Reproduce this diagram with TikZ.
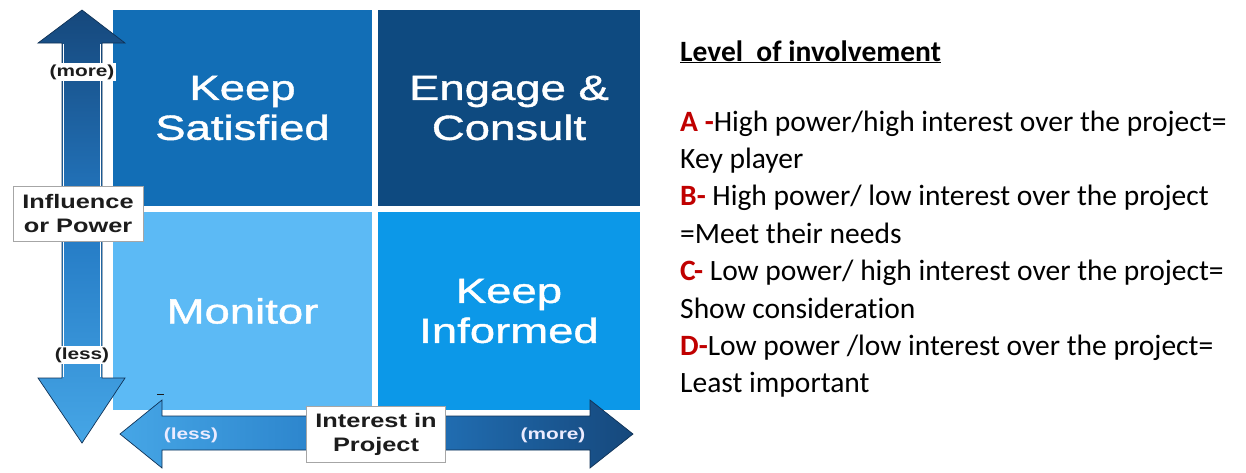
\documentclass[tikz,border=0pt]{standalone}
\usepackage{fontspec}
\setmainfont[Ligatures=NoCommon]{Carlito}
\newfontfamily\gridfont[FakeStretch=1.3]{Liberation Sans}
\newfontfamily\quadfont[FakeStretch=1.3, FakeBold=1.2]{Liberation Sans}

\definecolor{quadKS}{RGB}{18,110,182}
\definecolor{quadEC}{RGB}{14,74,128}
\definecolor{quadMO}{RGB}{92,186,245}
\definecolor{quadKI}{RGB}{12,152,232}
\definecolor{arrDark}{RGB}{22,72,124}
\definecolor{arrMid}{RGB}{36,122,196}
\definecolor{arrLight}{RGB}{70,166,230}
\definecolor{edgeDark}{RGB}{16,50,86}
\definecolor{labelInk}{RGB}{28,28,28}
\definecolor{keyRed}{RGB}{192,0,0}

\tikzset{
  quad/.style={minimum width=259pt, minimum height=196pt, inner sep=0pt,
    text=white, align=center,
    font=\quadfont\fontsize{35}{40}\selectfont},
  axisbox/.style={draw=gray!70, line width=0.8pt, fill=white, align=center,
    text=labelInk, inner sep=0pt,
    font=\gridfont\bfseries\fontsize{19.5}{24}\selectfont},
  endlabel/.style={fill=white, inner xsep=2pt, inner ysep=1.5pt, text=labelInk,
    font=\gridfont\bfseries\fontsize{16}{18}\selectfont},
  shaftlabel/.style={text=white!92!blue,
    font=\gridfont\bfseries\fontsize{16}{18}\selectfont},
  keyline/.style={anchor=base west, inner sep=0pt,
    font=\fontsize{29.5}{36}\selectfont},
  arrowedge/.style={draw=edgeDark, line width=0.7pt, line join=miter}
}
\newcommand{\keytag}[1]{\textcolor{keyRed}{\bfseries #1}}

\begin{document}
\begin{tikzpicture}[x=1pt, y=-1pt]
  \useasboundingbox (0,0) rectangle (1246,472);
  \fill[white] (0,0) rectangle (1246,472);

  % the four quadrants of the grid
  \node[quad, fill=quadKS] (ks) at (242.5,108) {Keep\\Satisfied};
  \node[quad, fill=quadEC, minimum width=262pt] (ec) at (509,108) {Engage \&\\Consult};
  \node[quad, fill=quadMO, minimum height=198pt] (mo) at (242.5,311) {Monitor};
  \node[quad, fill=quadKI, minimum width=262pt, minimum height=198pt] (ki) at (509,311) {Keep\\Informed};

  % vertical axis: influence or power
  \shade[top color=arrDark, bottom color=arrLight, middle color=arrMid]
    (82,10) -- (125,43) -- (102,43) -- (102,378) -- (125,378) -- (82,443)
    -- (38,378) -- (62,378) -- (62,43) -- (38,43) -- cycle;
  \draw[arrowedge]
    (82,10) -- (125,43) -- (102,43) -- (102,378) -- (125,378) -- (82,443)
    -- (38,378) -- (62,378) -- (62,43) -- (38,43) -- cycle;
  \draw[white, line width=1.2pt] (63.5,44) -- (63.5,377) (100.5,44) -- (100.5,377);

  % horizontal axis: interest in project
  \shade[left color=arrLight, right color=arrDark, middle color=arrMid]
    (120,434) -- (162,400) -- (162,416) -- (590,416) -- (590,400) -- (633,434)
    -- (590,468) -- (590,450) -- (162,450) -- (162,468) -- cycle;
  \draw[arrowedge]
    (120,434) -- (162,400) -- (162,416) -- (590,416) -- (590,400) -- (633,434)
    -- (590,468) -- (590,450) -- (162,450) -- (162,468) -- cycle;
  \draw[labelInk, line width=1pt] (157,394.5) -- (164,394.5);

  % axis labels
  \node[endlabel] (vmore) at (82,72) {(more)};
  \node[endlabel] (vless) at (82,355) {(less)};
  \node[axisbox, minimum width=130pt, minimum height=55pt] (infl) at (78,214)
    {Influence\\or Power};
  \node[shaftlabel] (hless) at (191,435) {(less)};
  \node[shaftlabel] (hmore) at (553,435) {(more)};
  \node[axisbox, minimum width=139pt, minimum height=56pt] (intr) at (376,434)
    {Interest in\\Project};

  % key to the grid
  \node[keyline] (title) at (680,61)
    {\textbf{\underline{Level\ \ of involvement}}};
  \node[keyline] (la1) at (680,131)
    {\keytag{A -}High power/high interest over the project=};
  \node[keyline] (la2) at (680,168.4) {Key player};
  \node[keyline] (lb1) at (680,205.8)
    {\keytag{B-} High power/ low interest over the project};
  \node[keyline] (lb2) at (680,243.2) {=Meet their needs};
  \node[keyline] (lc1) at (680,280.6)
    {\keytag{C-} Low power/ high interest over the project=};
  \node[keyline] (lc2) at (680,318) {Show consideration};
  \node[keyline] (ld1) at (680,355.4)
    {\keytag{D-}Low power /low interest over the project=};
  \node[keyline] (ld2) at (680,392.8) {Least important};
\end{tikzpicture}
\end{document}
